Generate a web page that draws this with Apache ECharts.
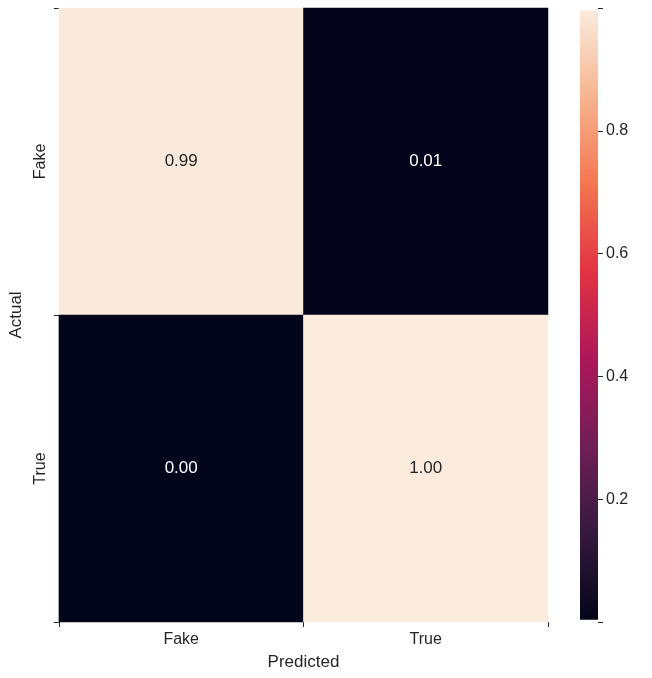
<!DOCTYPE html>
<html><head><meta charset="utf-8">
<script src="https://cdn.jsdelivr.net/npm/echarts@6/dist/echarts.min.js"></script>
<style>html,body{margin:0;padding:0;background:#fff}#c{width:652px;height:678px}</style>
</head><body><div id="c"></div>
<script>
const xCats = ['Fake', 'True'];
const yCats = ['Fake', 'True'];
// [xIndex, yIndex, value]  (yIndex 0 = top row)
const cells = [[0,0,0.9946],[1,0,0.0054],[0,1,0.0036],[1,1,0.9964]];
const vMin = 0.0036, vMax = 0.9964;
const cbTicks = [0.2, 0.4, 0.6, 0.8];
const rocket = ['#03051a','#35193e','#701f57','#ad1759','#e13342','#f37651','#f6b48f','#faebdd'];

const font = 'Liberation Sans, Arial, sans-serif';
const txt = '#262626';
const chart = echarts.init(document.getElementById('c'));
const stops = rocket.map((c,i)=>({offset:1 - i/(rocket.length-1), color:c})).reverse();
chart.setOption({
  animation:false,
  grid:[{left:52,right:104,top:8,bottom:56},{left:580,width:18,top:8,bottom:56}],
  xAxis:[
    {type:'category',data:xCats,gridIndex:0,position:'bottom',axisLine:{show:false},
     axisTick:{show:true,length:5,lineStyle:{color:txt}},axisLabel:{fontSize:16,color:txt,fontFamily:font,margin:10},
     name:'Predicted',nameLocation:'middle',nameGap:32,nameTextStyle:{fontSize:17,color:txt,fontFamily:font},splitLine:{show:false}},
    {type:'category',data:['c'],gridIndex:1,show:false}
  ],
  yAxis:[
    {type:'category',data:yCats,inverse:true,gridIndex:0,axisLine:{show:false},
     axisTick:{show:true,length:5,lineStyle:{color:txt}},axisLabel:{fontSize:16,color:txt,fontFamily:font,rotate:90,margin:10},
     name:'Actual',nameLocation:'middle',nameGap:32,nameTextStyle:{fontSize:17,color:txt,fontFamily:font},splitLine:{show:false}},
    {type:'value',gridIndex:1,min:0,max:1,interval:0.2,position:'right',
     axisLine:{show:false},splitLine:{show:false},
     axisTick:{show:true,length:5,lineStyle:{color:txt}},
     axisLabel:{fontSize:16,color:txt,fontFamily:font,margin:8,
       formatter:v=>cbTicks.some(t=>Math.abs(t-v)<1e-6)?v.toFixed(1):''}}
  ],
  visualMap:{show:false,min:vMin,max:vMax,dimension:2,seriesIndex:0,inRange:{color:rocket}},
  series:[
    {type:'heatmap',xAxisIndex:0,yAxisIndex:0,data:cells,
     label:{show:true,fontSize:17,fontFamily:font,
       formatter:p=>p.value[2].toFixed(2),
       color:'#fff'},
     labelLayout:null,
     itemStyle:{borderWidth:0}},
    {type:'bar',xAxisIndex:1,yAxisIndex:1,stack:'cb',data:[vMin],barWidth:'100%',itemStyle:{color:'rgba(0,0,0,0)'},silent:true},
    {type:'bar',xAxisIndex:1,yAxisIndex:1,stack:'cb',data:[vMax-vMin],barWidth:'100%',silent:true,
     itemStyle:{color:new echarts.graphic.LinearGradient(0,1,0,0,rocket.map((c,i)=>({offset:i/(rocket.length-1),color:c})))}}
  ]
});
// dark text on light cells
chart.setOption({series:[{label:{color:undefined,formatter:p=>p.value[2].toFixed(2),
  rich:{}}},{},{}]});
chart.setOption({series:[{data:cells.map(c=>({value:c,label:{color:c[2]>0.5?'#262626':'#ffffff'}}))},{},{}]});
</script></body></html>
